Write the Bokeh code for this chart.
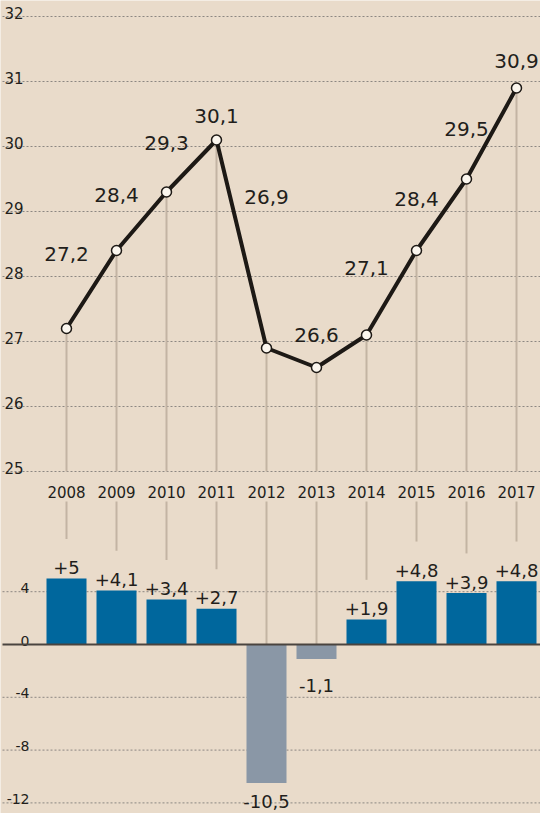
from bokeh.plotting import figure
from bokeh.models import ColumnDataSource, Range1d
from bokeh.embed import file_html
from bokeh.resources import INLINE
from bokeh.core.properties import value

# ---------------- data ----------------
years = [2008, 2009, 2010, 2011, 2012, 2013, 2014, 2015, 2016, 2017]
year_labels = ["2008", "2009", "2010", "2011", "2012", "2013", "2014", "2015", "2016", "2017"]
share = [27.2, 28.4, 29.3, 30.1, 26.9, 26.6, 27.1, 28.4, 29.5, 30.9]
share_labels = ["27,2", "28,4", "29,3", "30,1", "26,9", "26,6", "27,1", "28,4", "29,5", "30,9"]
change = [5, 4.1, 3.4, 2.7, -10.5, -1.1, 1.9, 4.8, 3.9, 4.8]
change_labels = ["+5", "+4,1", "+3,4", "+2,7", "-10,5", "-1,1", "+1,9", "+4,8", "+3,9", "+4,8"]
top_ticks = [25, 26, 27, 28, 29, 30, 31, 32]
top_tick_labels = ["25", "26", "27", "28", "29", "30", "31", "32"]
bottom_grid = [4, -4, -8, -12]
bottom_ticks = [4, 0, -4, -8, -12]
bottom_tick_labels = ["4", "0", "-4", "-8", "-12"]

# ---------------- styles ----------------
BG = "#e9dbca"
TXT = "#221e1b"
LINE = "#1d1915"
DROP = "#c3b4a3"
GRID = "#8c8782"
BLUE = "#00679d"
GREY = "#8a97a6"
FONT = value("DejaVu Sans")
share_label_lift = [75, 56, 49, 24, 151, 33, 67, 52, 50, 27]   # px above point (baseline)
bar_label_dy = [-11, -11, -11, -11, 18, 26, -11, -11, -11, -11]

W, H = 540, 813
X0, X1 = 2006.68, 2017.48
grid_x0 = 2006.72
top_label_x = 2006.76
bottom_label_x = 2007.26

# top (line) scale: px per unit, 32 at 16 px from top
TOP_PPU = 65.0
top_y1 = 32 + 16 / TOP_PPU
top_y0 = top_y1 - H / TOP_PPU
# bottom (bar) scale: px per unit, 0 at 644 px from top
BOT_PPU = 13.2
ZERO_PX = 644
bot_y1 = ZERO_PX / BOT_PPU
bot_y0 = -(H - ZERO_PX) / BOT_PPU

p = figure(width=W, height=H, x_range=Range1d(X0, X1), y_range=Range1d(top_y0, top_y1),
           output_backend="svg", toolbar_location=None,
           x_axis_location=None, y_axis_location=None,
           min_border=0, min_border_left=0, min_border_right=0,
           min_border_top=0, min_border_bottom=0)
p.extra_y_ranges = {"bars": Range1d(bot_y0, bot_y1)}
p.grid.visible = False
p.outline_line_color = None
p.background_fill_color = BG
p.border_fill_color = BG

# ---------------- top: line chart ----------------
gsrc = ColumnDataSource(dict(y=top_ticks, x0=[grid_x0] * len(top_ticks),
                             x1=[X1] * len(top_ticks), lab=top_tick_labels,
                             lx=[top_label_x] * len(top_ticks)))
p.segment(x0="x0", y0="y", x1="x1", y1="y", source=gsrc, line_color=GRID,
          line_width=1, line_dash="2 2")
p.text(x="lx", y="y", text="lab", source=gsrc, text_font=FONT, text_font_size="15px",
       text_color=TXT, text_align="left", text_baseline="alphabetic", y_offset=-4)

src = ColumnDataSource(dict(x=years, y=share, lab=share_labels,
                            base=[top_ticks[0]] * len(years),
                            dy=[-v for v in share_label_lift], ylab=year_labels))
p.segment(x0="x", y0="y", x1="x", y1="base", source=src, line_color=DROP, line_width=2)
p.line(x="x", y="y", source=src, line_color=LINE, line_width=4, line_join="round")
p.scatter(x="x", y="y", source=src, size=10, fill_color="#fbf6ee", line_color=LINE,
          line_width=1.5)
p.text(x="x", y="y", text="lab", source=src, text_font=FONT, text_font_size="20px",
       text_color=TXT, text_align="center", text_baseline="alphabetic", y_offset="dy")
p.text(x="x", y="base", text="ylab", source=src, text_font=FONT, text_font_size="15px",
       text_color=TXT, text_align="center", text_baseline="alphabetic", y_offset=20)

# ---------------- bottom: bar chart ----------------
bg = ColumnDataSource(dict(y=bottom_grid, x0=[grid_x0] * len(bottom_grid),
                           x1=[X1] * len(bottom_grid)))
p.segment(x0="x0", y0="y", x1="x1", y1="y", source=bg, line_color=GRID,
          line_width=1, line_dash="2 2", y_range_name="bars")
bl = ColumnDataSource(dict(y=bottom_ticks, lab=bottom_tick_labels,
                           x=[bottom_label_x] * len(bottom_ticks)))
p.text(x="x", y="y", text="lab", source=bl, text_font=FONT, text_font_size="14px",
       text_color=TXT, text_align="right", text_baseline="alphabetic", y_offset=-4,
       y_range_name="bars")

# connectors start just below the year labels (25 gridline + 30 px)
year_px = 16 + 7 * TOP_PPU
conn_top = (ZERO_PX - (year_px + 30)) / BOT_PPU
bsrc = ColumnDataSource(dict(
    x=years, v=change, lab=change_labels, dy=bar_label_dy,
    color=[BLUE if v > 0 else GREY for v in change],
    ctop=[conn_top] * len(years),
    cend=[v + 3.0 if v > 0 else 0 for v in change],
))
p.segment(x0="x", y0="ctop", x1="x", y1="cend", source=bsrc, line_color=DROP, line_width=2,
          y_range_name="bars")
p.vbar(x="x", top="v", bottom=0, width=0.8, source=bsrc, fill_color="color",
       line_color=None, y_range_name="bars")
p.segment(x0=[grid_x0], y0=[0], x1=[X1], y1=[0], line_color="#4a443f", line_width=2,
          y_range_name="bars")
p.text(x="x", y="v", text="lab", source=bsrc, text_font=FONT, text_font_size="18px",
       text_color=TXT, text_align="center", text_baseline="alphabetic", y_offset="dy",
       y_range_name="bars")

with open("out.html", "w") as f:
    f.write(file_html(p, INLINE))
